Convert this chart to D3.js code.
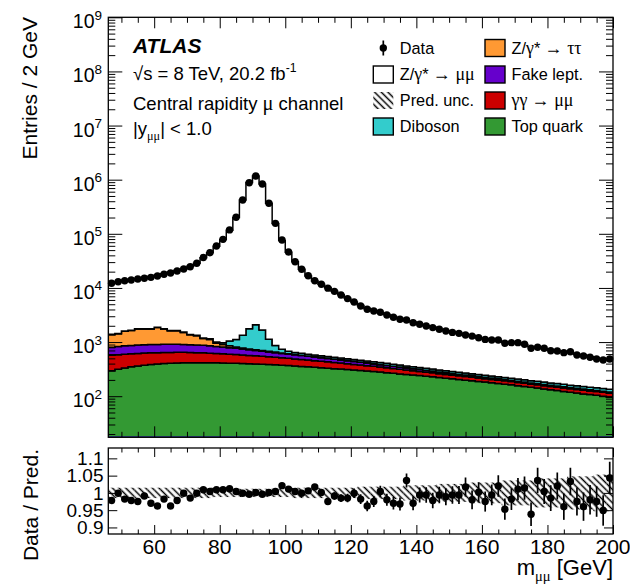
<!DOCTYPE html>
<html>
<head>
<meta charset="utf-8">
<script src="https://cdn.jsdelivr.net/npm/d3@7/dist/d3.min.js"></script>
<style>
  html, body { margin: 0; padding: 0; background: #ffffff; }
  svg { display: block; }
  text { font-family: "Liberation Sans", Arial, Helvetica, sans-serif; fill: #000; }
</style>
</head>
<body>
<svg id="chart" width="630" height="584"></svg>
<script>
// ---- binning: 2 GeV bins in dimuon invariant mass --------------------------
const binHalfWidth = 1;
const binCentres = [47,49,51,53,55,57,59,61,63,65,67,69,71,73,75,77,79,81,83,85,87,89,91,93,95,97,99,101,103,105,107,109,111,113,115,117,119,121,123,125,127,129,131,133,135,137,139,141,143,145,147,149,151,153,155,157,159,161,163,165,167,169,171,173,175,177,179,181,183,185,187,189,191,193,195,197,199];

// ---- observed events per bin ----------------------------------------------
const dataCounts = [12200,13000,13600,14000,14600,15100,15700,16600,17900,18900,20600,22400,24700,28500,36500,44800,59600,79000,118000,202000,422000,880000,1170000,830000,366000,156000,77000,46000,30500,22100,16800,13600,11700,9900,8650,7400,6350,5500,4640,4030,3750,3550,3160,2870,2640,2560,2280,2130,1980,1850,1720,1600,1510,1450,1350,1290,1200,1120,1090,1090,948,975,975,910,767,801,767,693,684,637,664,577,553,524,487,467,487];

// ---- data / prediction ratio and relative prediction uncertainty ----------
const dataOverPrediction = [0.978,0.999,0.982,0.978,0.975,0.991,0.970,0.962,0.982,0.962,0.978,0.999,0.985,0.999,1.009,1.004,1.009,1.009,1.012,1.004,0.999,0.996,1.001,0.996,1.001,1.004,1.021,1.011,1.004,0.999,1.006,1.017,1.001,0.975,0.991,0.985,0.985,0.999,0.982,0.962,0.975,1.004,0.980,0.970,0.968,1.036,0.970,0.994,0.994,0.978,0.994,0.989,0.994,0.994,1.017,0.980,1.002,0.975,0.994,1.020,0.953,0.982,1.011,1.014,0.938,1.036,1.004,0.985,1.020,0.960,1.033,0.975,0.960,0.980,0.975,0.949,1.043];
const predictionUncertainty = [0.015,0.015,0.015,0.015,0.015,0.015,0.015,0.015,0.015,0.015,0.015,0.015,0.015,0.015,0.015,0.015,0.012,0.012,0.012,0.012,0.012,0.012,0.012,0.012,0.012,0.012,0.012,0.012,0.015,0.015,0.015,0.015,0.015,0.015,0.015,0.015,0.015,0.015,0.018,0.018,0.018,0.018,0.018,0.018,0.018,0.022,0.022,0.022,0.022,0.022,0.026,0.026,0.026,0.026,0.026,0.030,0.030,0.030,0.030,0.030,0.036,0.036,0.036,0.036,0.036,0.042,0.042,0.042,0.042,0.042,0.048,0.048,0.048,0.048,0.053,0.053,0.053];

// ---- background expectations per bin --------------------------------------
const topQuark = [296,315,332,349,361,374,384,393,400,406,411,415,417,417,417,415,413,411,408,405,401,398,394,389,384,379,374,368,361,355,349,342,336,330,323,317,311,304,298,292,285,279,272,265,258,252,246,240,234,228,221,215,209,204,198,193,187,182,177,172,167,162,156,151,146,141,136,131,127,122,118,114,110,107,104,100,96];
const photonInduced = [272,268,264,259,255,252,248,245,241,238,235,231,226,221,216,209,202,196,189,182,175,168,162,156,150,144,138,133,128,122,117,112,107,102,97,92,88,83,79,75,71,66,63,60,56,53,49,47,44,42,39,37,36,34,32,31,29,27,26,26,25,24,23,22,21,21,20,20,20,20,19,19,19,18,18,18,17];
const fakeLeptons = [238,247,255,259,264,265,267,268,268,267,264,259,253,247,238,228,217,204,191,179,167,155,143,133,122,114,105,98,91,85,79,74,69,65,60,56,53,49,46,43,39,37,34,31,29,26,25,23,21,20,18,16,15,14,14,13,12,11,10,9,9,8,8,8,7,7,7,6,6,6,5,5,5,5,4,4,4];
const zTauTau = [565,600,728,773,866,854,846,960,835,708,709,601,464,420,288,266,120,93,68,43,34,26,21,17,17,15,14,12,10,9,9,8,7,6,6,5,5,5,4,4,4,4,4,3,3,3,3,3,3,3,3,3,3,3,3,3,3,3,3,2,2,2,2,2,2,2,2,2,2,2,2,2,2,2,2,2,2];
const diboson = [17,17,17,18,18,19,19,20,20,21,22,24,26,28,31,38,51,72,185,310,560,1020,1360,978,450,212,102,64,53,48,44,42,41,40,39,38,37,37,36,35,34,33,32,31,30,29,28,27,26,25,24,24,23,22,22,21,21,20,20,19,19,18,18,18,17,17,17,17,16,16,16,16,15,15,15,15,15];

// ---- axis tick values -----------------------------------------------------
const xTicksMajor = [60, 80, 100, 120, 140, 160, 180, 200];
const xTicksMinor = [50, 55, 65, 70, 75, 85, 90, 95, 105, 110, 115, 125, 130, 135, 145, 150, 155, 165, 170, 175, 185, 190, 195];
const xTickLabels = ["60", "80", "100", "120", "140", "160", "180", "200"];
const yDecades = [2, 3, 4, 5, 6, 7, 8, 9];
const yTicksRatio = [0.9, 0.95, 1, 1.05, 1.1];
const yTickLabelsRatio = ["0.9", "0.95", "1", "1.05", "1.1"];

// Total prediction follows from the ratio; the Z->mumu signal fills the rest.
const prediction = dataCounts.map((n, i) => n / dataOverPrediction[i]);
const zMuMu = prediction.map((p, i) =>
  p - topQuark[i] - photonInduced[i] - fakeLeptons[i] - zTauTau[i] - diboson[i]);

// ---- layout ---------------------------------------------------------------
const svg = d3.select("#chart");
const frame = { left: 108.3, right: 613, top: 17.3, bottom: 437.3 };
const rFrame = { top: 448, bottom: 534 };
const yMin = 17.4;

const x = d3.scaleLinear().domain([46, 200]).range([frame.left, frame.right]);
const y = d3.scaleLog().domain([yMin, 1e9]).range([frame.bottom, frame.top]);
const yr = d3.scaleLinear().domain([0.881, 1.130]).range([rFrame.bottom, rFrame.top]);

const defs = svg.append("defs");
defs.append("clipPath").attr("id", "clipMain").append("rect")
  .attr("x", frame.left).attr("y", frame.top)
  .attr("width", frame.right - frame.left).attr("height", frame.bottom - frame.top);
defs.append("clipPath").attr("id", "clipRatio").append("rect")
  .attr("x", frame.left).attr("y", rFrame.top)
  .attr("width", frame.right - frame.left).attr("height", rFrame.bottom - rFrame.top);
const hatch = defs.append("pattern").attr("id", "hatch")
  .attr("patternUnits", "userSpaceOnUse").attr("width", 8).attr("height", 4.7)
  .attr("patternTransform", "rotate(45)");
hatch.append("line").attr("x1", 0).attr("x2", 8).attr("y1", 2.35).attr("y2", 2.35)
  .attr("stroke", "#000").attr("stroke-width", 1.5);

// ---- stacked expectation --------------------------------------------------
const keys = ["topQuark", "photonInduced", "fakeLeptons", "zTauTau", "diboson", "zMuMu"];
const colours = {
  topQuark: "#339933", photonInduced: "#cc0000", fakeLeptons: "#6600cc",
  zTauTau: "#ff9933", diboson: "#33cccc", zMuMu: "#ffffff"
};
const rows = binCentres.map((c, i) => ({
  topQuark: topQuark[i], photonInduced: photonInduced[i], fakeLeptons: fakeLeptons[i],
  zTauTau: zTauTau[i], diboson: diboson[i], zMuMu: zMuMu[i]
}));
const layers = d3.stack().keys(keys)(rows);

function toSteps(layer) {
  const pts = layer.map((d, i) => ({ edge: binCentres[i] - binHalfWidth, lo: d[0], hi: d[1] }));
  const last = layer[layer.length - 1];
  pts.push({ edge: binCentres[binCentres.length - 1] + binHalfWidth, lo: last[0], hi: last[1] });
  return pts;
}
const stepArea = d3.area().curve(d3.curveStepAfter)
  .x(p => x(p.edge))
  .y0(p => y(Math.max(p.lo, yMin)))
  .y1(p => y(Math.max(p.hi, yMin)));

const gMain = svg.append("g").attr("clip-path", "url(#clipMain)");
gMain.selectAll("path.layer").data(layers).join("path")
  .attr("class", "layer")
  .attr("d", l => stepArea(toSteps(l)))
  .attr("fill", l => colours[l.key])
  .attr("stroke", "#000").attr("stroke-width", 1.5);

gMain.append("line")
  .attr("x1", frame.left).attr("x2", frame.right)
  .attr("y1", frame.bottom - 0.5).attr("y2", frame.bottom - 0.5)
  .attr("stroke", "#2c3c84").attr("stroke-width", 1.6);

// ---- data points ----------------------------------------------------------
const gData = svg.append("g");
gData.selectAll("line.err").data(binCentres).join("line")
  .attr("class", "err")
  .attr("x1", c => x(c)).attr("x2", c => x(c))
  .attr("y1", (c, i) => y(dataCounts[i] + Math.sqrt(dataCounts[i])))
  .attr("y2", (c, i) => y(dataCounts[i] - Math.sqrt(dataCounts[i])))
  .attr("stroke", "#000").attr("stroke-width", 1.6);
gData.selectAll("circle").data(binCentres).join("circle")
  .attr("cx", c => x(c)).attr("cy", (c, i) => y(dataCounts[i]))
  .attr("r", 3.7).attr("fill", "#000");

// ---- ratio panel ----------------------------------------------------------
const gRatio = svg.append("g").attr("clip-path", "url(#clipRatio)");
gRatio.selectAll("rect.unc").data(binCentres).join("rect")
  .attr("class", "unc")
  .attr("x", c => x(c - binHalfWidth))
  .attr("width", c => x(c + binHalfWidth) - x(c - binHalfWidth))
  .attr("y", (c, i) => yr(1 + predictionUncertainty[i]))
  .attr("height", (c, i) => yr(1 - predictionUncertainty[i]) - yr(1 + predictionUncertainty[i]))
  .attr("fill", "url(#hatch)");
gRatio.selectAll("line.rerr").data(binCentres).join("line")
  .attr("class", "rerr")
  .attr("x1", c => x(c)).attr("x2", c => x(c))
  .attr("y1", (c, i) => yr(dataOverPrediction[i] * (1 + 1 / Math.sqrt(dataCounts[i]))))
  .attr("y2", (c, i) => yr(dataOverPrediction[i] * (1 - 1 / Math.sqrt(dataCounts[i]))))
  .attr("stroke", "#000").attr("stroke-width", 1.7);
gRatio.selectAll("circle").data(binCentres).join("circle")
  .attr("cx", c => x(c)).attr("cy", (c, i) => yr(dataOverPrediction[i]))
  .attr("r", 3.7).attr("fill", "#000");

// ---- axes -----------------------------------------------------------------
function tickMarks(translate, axis, values, size) {
  const g = svg.append("g").attr("transform", translate)
    .call(axis.tickValues(values).tickSize(size).tickFormat(""));
  g.select(".domain").remove();
  g.selectAll(".tick text").remove();
  g.selectAll(".tick line").attr("stroke", "#000").attr("stroke-width", 1);
  return g;
}
const yMinorValues = [];
yDecades.concat([1]).forEach(d => {
  [2, 3, 4, 5, 6, 7, 8, 9].forEach(m => {
    const v = m * Math.pow(10, d);
    if (v >= yMin && v <= 1e9) yMinorValues.push(v);
  });
});
const yMajorValues = yDecades.map(d => Math.pow(10, d));

// main panel
tickMarks(`translate(0,${frame.bottom})`, d3.axisBottom(x), xTicksMajor, -11);
tickMarks(`translate(0,${frame.bottom})`, d3.axisBottom(x), xTicksMinor, -5.5);
tickMarks(`translate(0,${frame.top})`, d3.axisTop(x), xTicksMajor, -11);
tickMarks(`translate(0,${frame.top})`, d3.axisTop(x), xTicksMinor, -5.5);
tickMarks(`translate(${frame.left},0)`, d3.axisLeft(y), yMajorValues, -14);
tickMarks(`translate(${frame.left},0)`, d3.axisLeft(y), yMinorValues, -7);
tickMarks(`translate(${frame.right},0)`, d3.axisRight(y), yMajorValues, -14);
tickMarks(`translate(${frame.right},0)`, d3.axisRight(y), yMinorValues, -7);

// ratio panel
tickMarks(`translate(0,${rFrame.bottom})`, d3.axisBottom(x), xTicksMajor, -9);
tickMarks(`translate(0,${rFrame.bottom})`, d3.axisBottom(x), xTicksMinor, -4.5);
tickMarks(`translate(0,${rFrame.top})`, d3.axisTop(x), xTicksMajor, -9);
tickMarks(`translate(0,${rFrame.top})`, d3.axisTop(x), xTicksMinor, -4.5);
tickMarks(`translate(${frame.left},0)`, d3.axisLeft(yr), yTicksRatio, -9);
tickMarks(`translate(${frame.right},0)`, d3.axisRight(yr), yTicksRatio, -9);

// frames
svg.append("rect").attr("x", frame.left).attr("y", frame.top)
  .attr("width", frame.right - frame.left).attr("height", frame.bottom - frame.top)
  .attr("fill", "none").attr("stroke", "#000").attr("stroke-width", 1.3);
svg.append("rect").attr("x", frame.left).attr("y", rFrame.top)
  .attr("width", frame.right - frame.left).attr("height", rFrame.bottom - rFrame.top)
  .attr("fill", "none").attr("stroke", "#000").attr("stroke-width", 1.3);

// tick labels
const gLabels = svg.append("g");
yMajorValues.forEach((v, i) => {
  const t = gLabels.append("text")
    .attr("x", 102).attr("y", y(v) + 11)
    .attr("text-anchor", "end").attr("font-size", 19.5);
  t.append("tspan").text("10");
  t.append("tspan").attr("dy", -8.5).attr("font-size", 13.5).text(String(yDecades[i]));
});
yTicksRatio.forEach((v, i) => {
  gLabels.append("text")
    .attr("x", 103.5).attr("y", yr(v) + 6.8)
    .attr("text-anchor", "end").attr("font-size", 19)
    .text(yTickLabelsRatio[i]);
});
xTicksMajor.forEach((v, i) => {
  gLabels.append("text")
    .attr("x", x(v)).attr("y", 554)
    .attr("text-anchor", "middle").attr("font-size", 21)
    .text(xTickLabels[i]);
});

// ---- rich text helper -----------------------------------------------------
const serif = '"Liberation Serif", "DejaVu Serif", serif';
function rich(g, px, py, size, parts, anchor) {
  const t = g.append("text").attr("x", px).attr("y", py).attr("font-size", size);
  if (anchor) t.attr("text-anchor", anchor);
  let shift = 0;
  parts.forEach(p => {
    const target = p.sub ? size * 0.26 : p.sup ? -size * 0.42 : 0;
    const ts = t.append("tspan").text(p.t);
    if (target !== shift) ts.attr("dy", target - shift);
    shift = target;
    if (p.sub || p.sup) ts.attr("font-size", size * 0.66);
    else if (p.greek) ts.attr("font-size", size * 1.1);
    if (p.greek) ts.style("font-family", serif);
  });
  return t;
}

// axis titles
rich(svg, 613, 575, 22, [
  { t: "m" }, { t: "μμ", greek: true, sub: true }, { t: " [GeV]" }
], "end");
svg.append("text").attr("transform", "translate(37,17) rotate(-90)")
  .attr("text-anchor", "end").attr("font-size", 21).text("Entries / 2 GeV");
svg.append("text").attr("transform", "translate(38,449) rotate(-90)")
  .attr("text-anchor", "end").attr("font-size", 21).text("Data / Pred.");

// ---- labels inside the plot ----------------------------------------------
const gInfo = svg.append("g");
gInfo.append("text").attr("x", 133).attr("y", 53).attr("font-size", 21)
  .attr("font-weight", "bold").attr("font-style", "italic").text("ATLAS");
rich(gInfo, 133, 80, 18.5, [
  { t: "√s = 8 TeV, 20.2 fb" }, { t: "-1", sup: true }
]);
rich(gInfo, 133, 110, 18.5, [
  { t: "Central rapidity " }, { t: "μ", greek: true }, { t: " channel" }
]);
rich(gInfo, 133, 135, 18.5, [
  { t: "|y" }, { t: "μμ", greek: true, sub: true }, { t: "| < 1.0" }
]);

// ---- legend ---------------------------------------------------------------
const legendRows = [48, 74.5, 100.5, 126.5];
const legendCols = [373.3, 485];
const legendEntries = [
  { col: 0, row: 0, kind: "data", parts: [{ t: "Data" }] },
  { col: 0, row: 1, kind: "zMuMu", parts: [{ t: "Z/" }, { t: "γ", greek: true }, { t: "* " }, { t: "→ μμ", greek: true }] },
  { col: 0, row: 2, kind: "unc", parts: [{ t: "Pred. unc." }] },
  { col: 0, row: 3, kind: "diboson", parts: [{ t: "Diboson" }] },
  { col: 1, row: 0, kind: "zTauTau", parts: [{ t: "Z/" }, { t: "γ", greek: true }, { t: "* " }, { t: "→ ττ", greek: true }] },
  { col: 1, row: 1, kind: "fakeLeptons", parts: [{ t: "Fake lept." }] },
  { col: 1, row: 2, kind: "photonInduced", parts: [{ t: "γγ → μμ", greek: true }] },
  { col: 1, row: 3, kind: "topQuark", parts: [{ t: "Top quark" }] }
];
const gLegend = svg.append("g");
legendEntries.forEach(e => {
  const bx = legendCols[e.col], cy = legendRows[e.row];
  if (e.kind === "data") {
    gLegend.append("line").attr("x1", bx + 10).attr("x2", bx + 10)
      .attr("y1", cy - 7.5).attr("y2", cy + 7.5).attr("stroke", "#000").attr("stroke-width", 1.7);
    gLegend.append("circle").attr("cx", bx + 10).attr("cy", cy).attr("r", 3.7).attr("fill", "#000");
  } else if (e.kind === "unc") {
    gLegend.append("rect").attr("x", bx).attr("y", cy - 8.5).attr("width", 20).attr("height", 17)
      .attr("fill", "url(#hatch)");
  } else {
    gLegend.append("rect").attr("x", bx).attr("y", cy - 8.5).attr("width", 20).attr("height", 17)
      .attr("fill", colours[e.kind]).attr("stroke", "#000").attr("stroke-width", 1.4);
  }
  rich(gLegend, bx + 26.5, cy + 5.8, 16.3, e.parts);
});
</script>
</body>
</html>
